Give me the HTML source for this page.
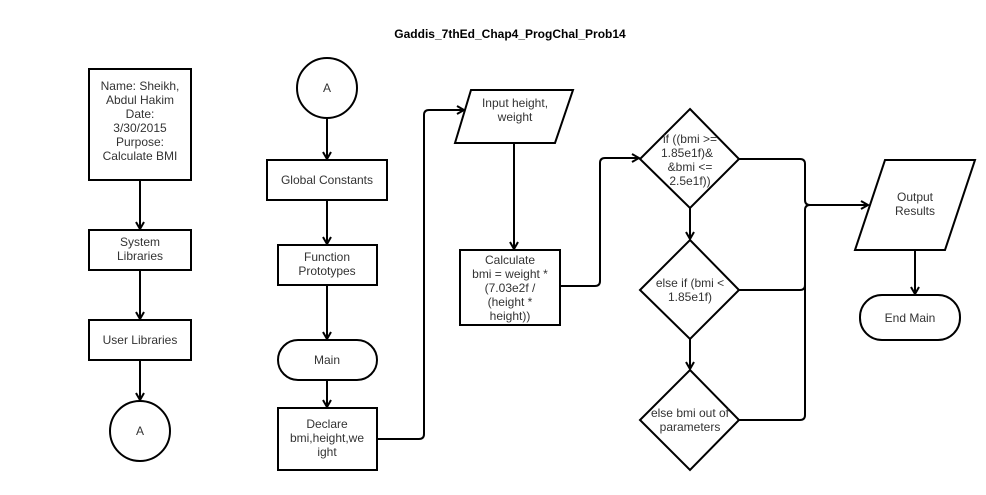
<!DOCTYPE html>
<html><head><style>
body{margin:0;background:#fff}
svg text{font-family:"Liberation Sans",Arial,sans-serif;font-size:12px;fill:#333}
</style></head><body>
<svg width="986" height="490" viewBox="0 0 986 490" xmlns="http://www.w3.org/2000/svg">
<defs><marker id="a" markerWidth="10" markerHeight="10" refX="8" refY="5" orient="auto" markerUnits="userSpaceOnUse"><path d="M1,1 L8,5 L1,9" fill="none" stroke="#000" stroke-width="2"/></marker></defs>
<text x="510" y="38" text-anchor="middle" style="font-weight:bold;font-size:12px;fill:#000">Gaddis_7thEd_Chap4_ProgChal_Prob14</text>
<g fill="#fff" stroke="#000" stroke-width="2">
<rect x="89" y="69" width="102" height="111"/>
<rect x="89" y="230" width="102" height="40"/>
<rect x="89" y="320" width="102" height="40"/>
<circle cx="140" cy="431" r="30"/>
<circle cx="327" cy="88" r="30"/>
<rect x="267" y="160" width="120" height="40"/>
<rect x="278" y="245" width="99" height="40"/>
<rect x="278" y="340" width="99" height="40" rx="20"/>
<rect x="278" y="408" width="99" height="62"/>
<polygon points="471,90 573,90 555,143 455,143"/>
<rect x="460" y="250" width="100" height="75"/>
<polygon points="690,109 739,159 690,208 640,159"/>
<polygon points="690,240 739,290 690,339 640,290"/>
<polygon points="690,370 739,420 690,470 640,420"/>
<polygon points="885,160 975,160 945,250 855,250"/>
<rect x="860" y="295" width="100" height="45" rx="22"/>
</g>
<g fill="none" stroke="#000" stroke-width="2" marker-end="url(#a)">
<line x1="140" y1="180" x2="140" y2="229"/>
<line x1="140" y1="270" x2="140" y2="319"/>
<line x1="140" y1="360" x2="140" y2="400"/>
<line x1="327" y1="118" x2="327" y2="159"/>
<line x1="327" y1="200" x2="327" y2="244"/>
<line x1="327" y1="285" x2="327" y2="339"/>
<line x1="327" y1="380" x2="327" y2="407"/>
<path d="M377,439 H419 Q424,439 424,434 V115 Q424,110 429,110 H464"/>
<line x1="514" y1="143" x2="514" y2="249"/>
<path d="M560,286 H595 Q600,286 600,281 V163 Q600,158 605,158 H639"/>
<line x1="690" y1="208" x2="690" y2="239"/>
<line x1="690" y1="339" x2="690" y2="369"/>
<path d="M808,205 H868"/>
<line x1="915" y1="250" x2="915" y2="294"/>
</g>
<g fill="none" stroke="#000" stroke-width="2">
<path d="M739,159 H800 Q805,159 805,164 V200 Q805,205 810,205"/>
<path d="M739,290 H800 Q805,290 805,285 V210 Q805,205 810,205"/>
<path d="M739,420 H800 Q805,420 805,415 V210"/>
</g>
<g text-anchor="middle">
<text x="140" y="90">Name: Sheikh,</text><text x="140" y="104">Abdul Hakim</text><text x="140" y="118">Date:</text><text x="140" y="132">3/30/2015</text><text x="140" y="146">Purpose:</text><text x="140" y="160">Calculate BMI</text>
<text x="140" y="246">System</text><text x="140" y="260">Libraries</text>
<text x="140" y="344">User Libraries</text>
<text x="140" y="435">A</text>
<text x="327" y="92">A</text>
<text x="327" y="184">Global Constants</text>
<text x="327" y="261">Function</text><text x="327" y="275">Prototypes</text>
<text x="327" y="364">Main</text>
<text x="327" y="428">Declare</text><text x="327" y="442">bmi,height,we</text><text x="327" y="456">ight</text>
<text x="515" y="107">Input height,</text><text x="515" y="121">weight</text>
<text x="510" y="264">Calculate</text><text x="510" y="278">bmi = weight *</text><text x="510" y="292">(7.03e2f /</text><text x="510" y="306">(height *</text><text x="510" y="320">height))</text>
<text x="690" y="143">if ((bmi &gt;=</text><text x="687" y="157">1.85e1f)&amp;</text><text x="690" y="171">&amp;bmi &lt;=</text><text x="690" y="185">2.5e1f))</text>
<text x="690" y="287">else if (bmi &lt;</text><text x="690" y="301">1.85e1f)</text>
<text x="690" y="417">else bmi out of</text><text x="690" y="431">parameters</text>
<text x="915" y="201">Output</text><text x="915" y="215">Results</text>
<text x="910" y="322">End Main</text>
</g>
</svg>
</body></html>
